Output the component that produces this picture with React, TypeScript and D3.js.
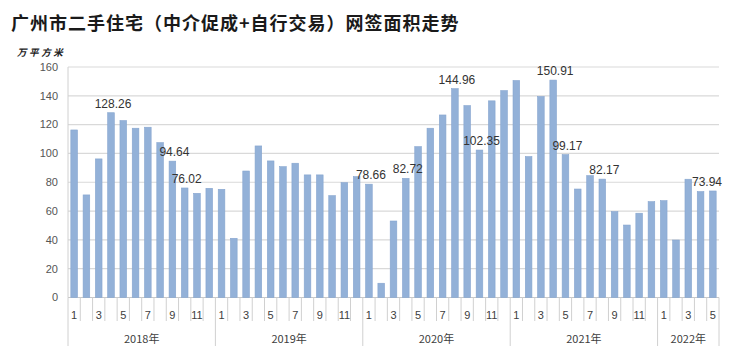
import React from "react";
import * as d3 from "d3";

const years = ["2018年", "2019年", "2020年", "2021年", "2022年"];
const monthsPerYear = [12, 12, 12, 12, 5];
const values2018 = [116.3, 71.2, 96.2, 128.26, 122.8, 117.5, 118.2, 107.5, 94.64, 76.02, 72.3, 75.8];
const values2019 = [75.1, 41.1, 87.8, 105.2, 94.8, 90.8, 93.2, 85.1, 85.1, 70.7, 79.7, 83.9];
const values2020 = [78.66, 9.9, 53.1, 82.72, 104.7, 117.5, 126.7, 144.96, 133.2, 102.35, 136.5, 143.6];
const values2021 = [150.6, 97.8, 139.5, 150.91, 99.17, 75.3, 84.6, 82.17, 59.6, 50.3, 58.5, 66.5];
const values2022 = [67.2, 39.9, 82.1, 73.5, 73.94];
const labeledValues = [128.26, 94.64, 76.02, 78.66, 82.72, 144.96, 102.35, 150.91, 99.17, 82.17, 73.94];
const yTicks = [0, 20, 40, 60, 80, 100, 120, 140, 160];
const title = "广州市二手住宅（中介促成+自行交易）网签面积走势";
const unitLabel = "万平方米";

const allValues = [...values2018, ...values2019, ...values2020, ...values2021, ...values2022];
const monthOf: number[] = [];
monthsPerYear.forEach((n) => {
  for (let m = 1; m <= n; m++) monthOf.push(m);
});

export default function App() {
  const W = 740, H = 356;
  const left = 68, right = 719, top = 67, bottom = 297.5;
  const x = d3.scaleBand<number>().domain(d3.range(allValues.length)).range([left, right]).paddingInner(0.46).paddingOuter(0.23);
  const y = d3.scaleLinear().domain([0, 160]).range([bottom, top]);
  const font = "'Liberation Sans', Arial, 'Noto Sans CJK SC', sans-serif";
  const cjk = "'Noto Sans CJK SC', 'Liberation Sans', sans-serif";

  const boundaryX = (i: number) => left + i * ((right - left) / allValues.length);
  const yearStarts: number[] = [];
  let acc = 0;
  monthsPerYear.forEach((n) => { yearStarts.push(acc); acc += n; });

  return (
    <svg width={W} height={H} style={{ position: "absolute", left: 0, top: 0, background: "#fff" }}>
      <text x={11} y={30} fontFamily={cjk} fontWeight={700} fontSize={18} letterSpacing={1} fill="#1a1a1a">{title}</text>
      <text x={17} y={56} fontFamily={cjk} fontWeight={700} fontStyle="italic" fontSize={9.5} letterSpacing={2.6} fill="#222">{unitLabel}</text>
      {yTicks.map((t) => (
        <g key={t}>
          <line x1={left} x2={right} y1={y(t)} y2={y(t)} stroke={t === 0 ? "#c8c8c8" : "#d9d9d9"} strokeWidth={1.2} />
          <text x={58} y={y(t)} dy="0.35em" textAnchor="end" fontFamily={font} fontSize={11} fill="#555">{t}</text>
        </g>
      ))}
      <line x1={left} x2={left} y1={top} y2={bottom} stroke="#d0d0d0" strokeWidth={1} />
      {allValues.map((v, i) => (
        <rect key={i} x={x(i)} y={y(v)} width={x.bandwidth()} height={bottom - y(v)} fill="#93b1d8" stroke="#86a5cf" strokeWidth={0.6} />
      ))}
      {d3.range(allValues.length + 1).map((i) => {
        const isYear = yearStarts.includes(i) || i === allValues.length;
        return <line key={"t" + i} x1={boundaryX(i)} x2={boundaryX(i)} y1={bottom} y2={isYear ? 346 : 321} stroke="#d0d0d0" strokeWidth={1} />;
      })}
      {allValues.map((_, i) => monthOf[i] % 2 === 1 ? (
        <text key={"m" + i} x={(x(i) as number) + x.bandwidth() / 2} y={315} dy="0.35em" textAnchor="middle" fontFamily={font} fontSize={11} fill="#404040">{monthOf[i]}</text>
      ) : null)}
      {years.map((yr, yi) => {
        const s = yearStarts[yi];
        const cx = (boundaryX(s) + boundaryX(s + monthsPerYear[yi])) / 2;
        return <text key={yr} x={cx} y={339} dy="0.35em" textAnchor="middle" fontFamily={cjk} fontSize={11} fill="#404040">{yr}</text>;
      })}
      {allValues.map((v, i) => {
        if (!labeledValues.includes(v)) return null;
        let cx = (x(i) as number) + x.bandwidth() / 2 + 2;
        const halfW = 16;
        if (cx + halfW > 723) cx = 723 - halfW;
        return <text key={"l" + i} x={cx} y={y(v) - 5} textAnchor="middle" fontFamily={font} fontSize={12} fill="#333">{v.toFixed(2)}</text>;
      })}
    </svg>
  );
}
